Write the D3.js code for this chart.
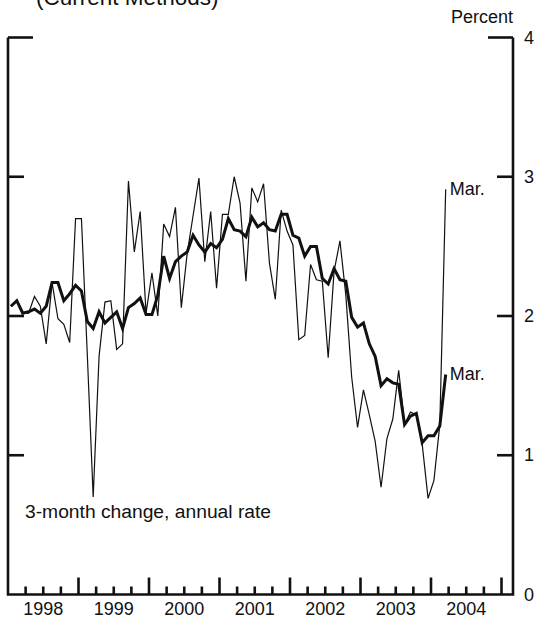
<!DOCTYPE html>
<html>
<head>
<meta charset="utf-8">
<script src="https://cdn.jsdelivr.net/npm/d3@7"></script>
<style>
  body { margin: 0; background: #fff; }
  svg { display: block; }
  text { font-family: "Liberation Sans", Arial, Helvetica, sans-serif; fill: #111; }
</style>
</head>
<body>
<svg id="chart" width="539" height="620"></svg>
<script>
// ---- Data (monthly, Jan 1998 - Mar 2004) ----
const startYear = 1998;
const startMonth = 0; // January
const yearLabels = ["1998", "1999", "2000", "2001", "2002", "2003", "2004"];
const yTickValues = [0, 1, 2, 3, 4];
const titleText = "(Current Methods)";
const unitText = "Percent";
const seriesNote = "3-month change, annual rate";
const endLabel = "Mar.";

// 3-month change, annual rate (thin line)
const threeMonthChange = [
  2.07, 2.11, 2.03, 2.02, 2.14, 2.07, 1.80, 2.24, 1.98, 1.94, 1.81, 2.70,
  2.70, 1.72, 0.70, 1.71, 2.10, 2.11, 1.76, 1.80, 2.97, 2.46, 2.75, 2.02,
  2.31, 2.00, 2.66, 2.57, 2.78, 2.06, 2.45, 2.72, 2.99, 2.39, 2.75, 2.20,
  2.73, 2.73, 3.00, 2.81, 2.25, 2.92, 2.82, 2.95, 2.38, 2.12, 2.76, 2.61,
  2.51, 1.83, 1.86, 2.37, 2.26, 2.25, 1.70, 2.32, 2.54, 2.15, 1.56, 1.20,
  1.47, 1.29, 1.10, 0.77, 1.12, 1.26, 1.61, 1.22, 1.31, 1.29, 1.08, 0.69,
  0.82, 1.22, 2.91
];

// 12-month change (thick line)
const twelveMonthChange = [
  2.07, 2.11, 2.02, 2.03, 2.05, 2.02, 2.07, 2.24, 2.24, 2.11, 2.16, 2.22,
  2.18, 1.96, 1.91, 2.03, 1.95, 1.99, 2.03, 1.91, 2.06, 2.09, 2.13, 2.01,
  2.01, 2.15, 2.43, 2.27, 2.39, 2.43, 2.46, 2.58, 2.51, 2.46, 2.52, 2.49,
  2.55, 2.70, 2.62, 2.61, 2.57, 2.71, 2.64, 2.67, 2.62, 2.61, 2.73, 2.73,
  2.58, 2.56, 2.43, 2.50, 2.50, 2.27, 2.23, 2.34, 2.26, 2.25, 1.99, 1.92,
  1.95, 1.80, 1.71, 1.50, 1.55, 1.52, 1.51, 1.22, 1.28, 1.30, 1.09, 1.14,
  1.14, 1.21, 1.58
];

// ---- Layout ----
const svg = d3.select("#chart");
const X0 = 8, XJan2005 = 501.5;
const x = d3.scaleLinear().domain([1998, 2005]).range([X0, XJan2005]);
const xEnd = 2005.163;
const y = d3.scaleLinear().domain([0, 4]).range([594.5, 37.5]);

function monthPos(i) {
  return startYear + (startMonth + i + 0.5) / 12;
}

function label(xp, yp, str, anchor, size, sx) {
  return svg.append("text")
    .attr("transform", `translate(${xp},${yp}) scale(${sx || 1},1)`)
    .attr("text-anchor", anchor)
    .style("font-size", size + "px")
    .text(str);
}

// Title (cut off at top, as in the original)
label(36, 5, titleText, "start", 22.5);

// Frame: left, right, bottom
const frame = svg.append("g").attr("stroke", "#111").attr("stroke-width", 2.6).attr("fill", "none");
frame.append("path")
  .attr("d", `M${x(1998)},${y(4)} V${y(0)} H${x(xEnd)} V${y(4)}`)
  .attr("stroke-linejoin", "miter");

// Y ticks (inside, on both sides)
yTickValues.filter(v => v > 0).forEach(v => {
  const len = v === 4 ? 25 : 16;
  frame.append("line").attr("x1", x(1998)).attr("x2", x(1998) + len).attr("y1", y(v)).attr("y2", y(v));
  frame.append("line").attr("x1", x(xEnd) - len).attr("x2", x(xEnd)).attr("y1", y(v)).attr("y2", y(v));
});

// X ticks: quarters, majors at years
const quarterTicks = d3.range(1, 29).map(q => 1998 + q / 4);
quarterTicks.forEach(t => {
  const major = Math.abs(t - Math.round(t)) < 1e-9;
  frame.append("line")
    .attr("x1", x(t)).attr("x2", x(t))
    .attr("y1", y(0)).attr("y2", y(0) - (major ? 17 : 8));
});

// Y tick labels on right
yTickValues.forEach(v => {
  label(524, y(v) + 6, String(v), "start", 18);
});

// Unit label
label(x(xEnd), 23, unitText, "end", 18);

// Year labels
yearLabels.forEach(s => {
  const yr = +s;
  label(x(yr + 0.5), 615, s, "middle", 18);
});

// Lines
const line = d3.line().x((d, i) => x(monthPos(i))).y(d => y(d));

svg.append("path")
  .datum(threeMonthChange)
  .attr("d", line)
  .attr("fill", "none")
  .attr("stroke", "#111")
  .attr("stroke-width", 1.2)
  .attr("stroke-linejoin", "miter");

svg.append("path")
  .datum(twelveMonthChange)
  .attr("d", line)
  .attr("fill", "none")
  .attr("stroke", "#111")
  .attr("stroke-width", 3)
  .attr("stroke-linejoin", "miter");

// End labels
const lastI = threeMonthChange.length - 1;
label(x(monthPos(lastI)) + 4, y(threeMonthChange[lastI]) + 5.5, endLabel, "start", 18);
label(x(monthPos(lastI)) + 4, y(twelveMonthChange[lastI]) + 5.5, endLabel, "start", 18);

// Series note
label(25, 518, seriesNote, "start", 18, 1.07);
</script>
</body>
</html>
